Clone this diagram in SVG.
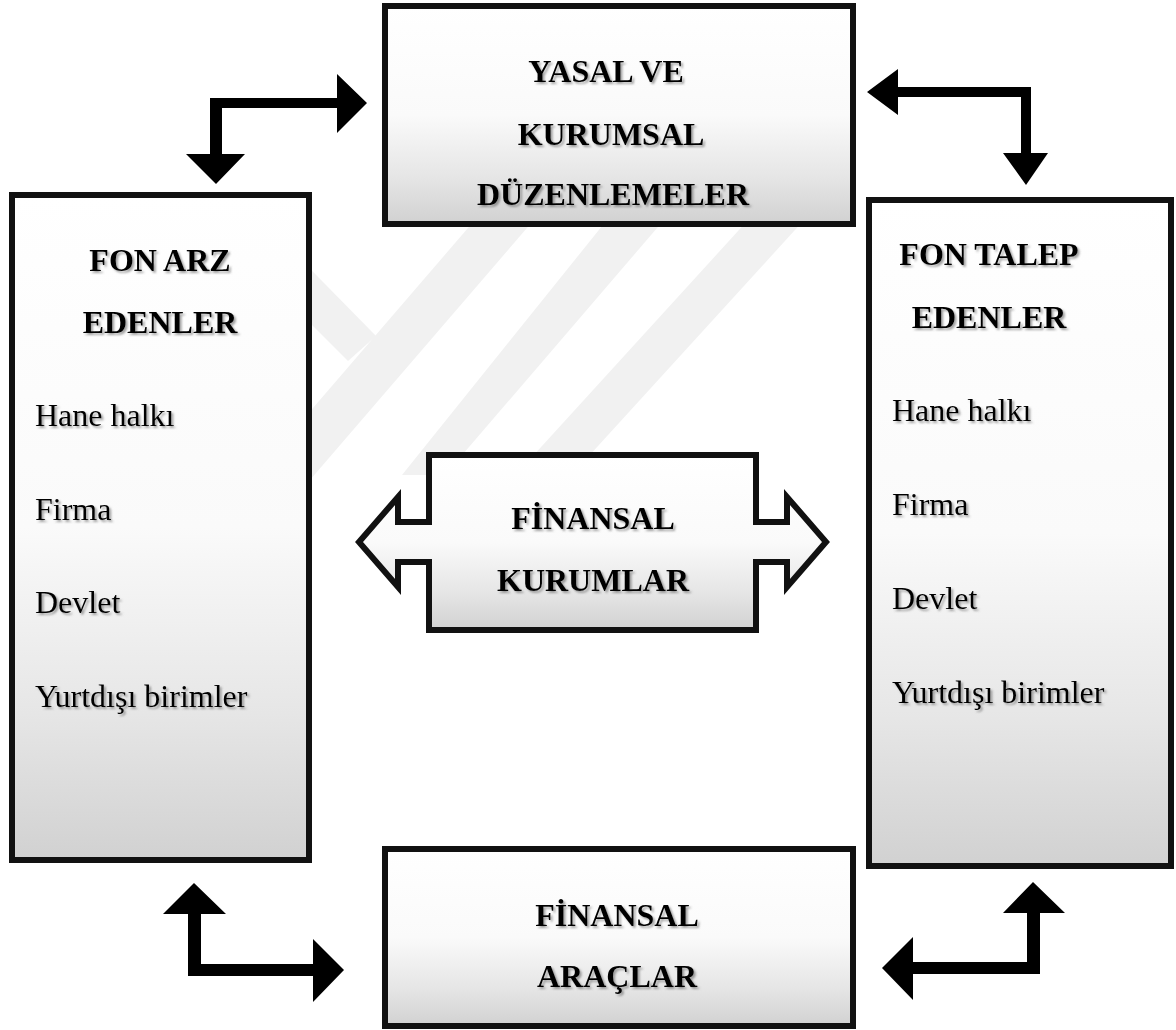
<svg xmlns="http://www.w3.org/2000/svg" width="1176" height="1030" viewBox="0 0 1176 1030">
  <defs>
    <linearGradient id="boxFill" x1="0" y1="0" x2="0" y2="1">
      <stop offset="0" stop-color="#ffffff"/>
      <stop offset="0.5" stop-color="#fafafa"/>
      <stop offset="0.78" stop-color="#e6e6e6"/>
      <stop offset="1" stop-color="#d1d1d1"/>
    </linearGradient>
    <filter id="shadow" x="-10%" y="-30%" width="120%" height="160%">
      <feDropShadow dx="2" dy="2" stdDeviation="1.2" flood-color="#555" flood-opacity="0.55"/>
    </filter>
  </defs>
  <style>
    .box { fill: url(#boxFill); stroke: #111; stroke-width: 6; }
    .arrow { fill: #000; stroke: none; }
    .title { font-family: "Liberation Serif", "Times New Roman", serif; font-weight: bold; font-size: 32px; fill: #000; text-anchor: middle; filter: url(#shadow); }
    .item { font-family: "Liberation Serif", "Times New Roman", serif; font-size: 32px; fill: #000; filter: url(#shadow); }
    .wm { fill: #f1f1f1; stroke: none; }
  </style>
  <rect width="1176" height="1030" fill="#ffffff"/>
  <g id="watermark">
    <polygon class="wm" points="505,185 564,185 310,480 251,480"/>
    <polygon class="wm" points="635,185 694,185 445,475 402,475"/>
    <polygon class="wm" points="780,185 836,185 567,480 511,480"/>
    <polygon class="wm" points="270,228 376,336 348,361 270,283"/>
  </g>
  <g id="connectors">
    <path class="arrow" d="M210,98 H337 V74 L367,103 L337,133 V108 H222 V154 H245 L216,184 L186,154 H210 Z"/>
    <path class="arrow" d="M1031,87 H898 V69 L867,92 L898,115 V97 H1021 V153 H1003 L1026,185 L1048,153 H1031 Z"/>
    <path class="arrow" d="M188,976 V914 H163 L194,883 L226,914 H201 V964 H313 V939 L344,970 L313,1002 V976 Z"/>
    <path class="arrow" d="M1040,974 V913 H1065 L1033,882 L1003,913 H1027 V962 H913 V937 L882,968 L913,1000 V974 Z"/>
  </g>
  <g id="yasal">
    <rect class="box" x="385" y="6" width="468" height="218"/>
    <text class="title" x="606" y="82">YASAL VE</text>
    <text class="title" x="611" y="145">KURUMSAL</text>
    <text class="title" x="613" y="205">DÜZENLEMELER</text>
  </g>
  <g id="fon-arz">
    <rect class="box" x="12" y="195" width="297" height="665"/>
    <text class="title" x="160" y="271">FON ARZ</text>
    <text class="title" x="160" y="333">EDENLER</text>
    <text class="item" x="35" y="426">Hane halkı</text>
    <text class="item" x="35" y="520">Firma</text>
    <text class="item" x="35" y="613">Devlet</text>
    <text class="item" x="35" y="707">Yurtdışı birimler</text>
  </g>
  <g id="fon-talep">
    <rect class="box" x="869" y="200" width="302" height="666"/>
    <text class="title" x="989" y="265">FON TALEP</text>
    <text class="title" x="989" y="328">EDENLER</text>
    <text class="item" x="892" y="421">Hane halkı</text>
    <text class="item" x="892" y="515">Firma</text>
    <text class="item" x="892" y="609">Devlet</text>
    <text class="item" x="892" y="703">Yurtdışı birimler</text>
  </g>
  <g id="finansal-kurumlar">
    <path class="box" d="M429,455 H756 V522 H787 V497 L826,542 L787,587 V562 H756 V630 H429 V562 H398 V587 L359,542 L398,497 V522 H429 Z"/>
    <text class="title" x="593" y="529">FİNANSAL</text>
    <text class="title" x="593" y="591">KURUMLAR</text>
  </g>
  <g id="finansal-araclar">
    <rect class="box" x="385" y="849" width="468" height="177"/>
    <text class="title" x="617" y="926">FİNANSAL</text>
    <text class="title" x="617" y="987">ARAÇLAR</text>
  </g>
</svg>
